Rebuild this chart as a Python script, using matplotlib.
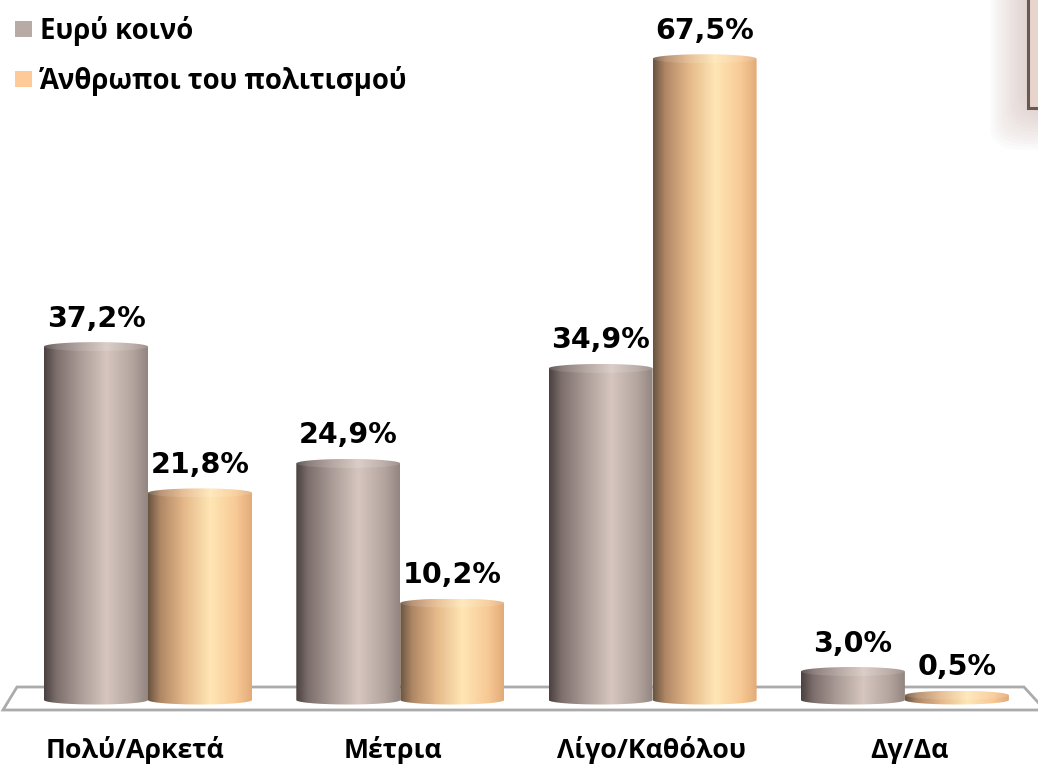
import numpy as np
import matplotlib
matplotlib.use("Agg")
import matplotlib.pyplot as plt
from matplotlib.path import Path
from matplotlib.patches import PathPatch, Polygon, Rectangle, FancyBboxPatch
from matplotlib.colors import LinearSegmentedColormap, to_rgb

# ---------------- data ----------------
categories = ["Πολύ/Αρκετά", "Μέτρια", "Λίγο/Καθόλου", "Δγ/Δα"]
series_names = ["Ευρύ κοινό", "Άνθρωποι του πολιτισμού"]
general_public = [37.2, 24.9, 34.9, 3.0]
culture_people = [21.8, 10.2, 67.5, 0.5]
series_values = [general_public, culture_people]

# ---------------- style ----------------
W, H, DPI = 1038, 764, 100
fig = plt.figure(figsize=(W / DPI, H / DPI), dpi=DPI)
fig.patch.set_facecolor("white")

LABEL_FONT = ["Open Sans", "Noto Sans", "DejaVu Sans"]
VALUE_FONT = ["DejaVu Sans"]

grey_stops = [(0.0, "#4b4140"), (0.12, "#7d6f6c"), (0.35, "#ab9c97"),
              (0.6, "#d6c6bf"), (0.85, "#b4a59f"), (1.0, "#938580")]
orange_stops = [(0.0, "#6a5440"), (0.12, "#b08866"), (0.35, "#e6b98a"),
                (0.6, "#ffe6b4"), (0.85, "#f7c995"), (1.0, "#e2ab78")]
legend_colors = ["#b8aaa4", "#fdca98"]
stops = [grey_stops, orange_stops]

# pixel-based layout -> data coordinates
zero_px = 700.0          # pixel row of value 0 (from top)
px_per_unit = 9.5        # pixels per percent
group0_px = 148.0        # centre of first group
group_step_px = 252.3
label0_px = 135.0        # category labels sit on the projected floor front
label_step_px = 258.3
bar_w = 104.0 / group_step_px
ry = 4.5 / px_per_unit   # semi-height of cylinder ellipses

ax = fig.add_axes([0, 0, 1, 1])
ax.set_xlim(-group0_px / group_step_px, (W - group0_px) / group_step_px)
ax.set_ylim(-(H - zero_px) / px_per_unit, zero_px / px_per_unit)
ax.axis("off")


def px2data(px, py):
    return ((px - group0_px) / group_step_px, (zero_px - py) / px_per_unit)


# floor (3D base plane)
floor_px = [(17, 687), (1024, 687), (1045, 710), (3, 710)]
floor = Polygon([px2data(*p) for p in floor_px], closed=True,
                facecolor="white", edgecolor="#ababab", lw=2.0, zorder=1)
ax.add_patch(floor)


def make_cmap(st, lighten=0.0):
    cols = []
    for pos, c in st:
        rgb = np.array(to_rgb(c))
        rgb = rgb + (1 - rgb) * lighten
        cols.append((pos, tuple(rgb)))
    return LinearSegmentedColormap.from_list("g", cols)


grad = np.linspace(0, 1, 256).reshape(1, -1)


def cylinder(xc, v, st, z):
    x0, x1 = xc - bar_w / 2, xc + bar_w / 2
    t = np.linspace(np.pi, 2 * np.pi, 60)
    bx = xc + (bar_w / 2) * np.cos(t)
    by = 0 + ry * np.sin(t)
    verts = [(x0, v)] + list(zip(bx, by)) + [(x1, v), (x0, v)]
    codes = [Path.MOVETO] + [Path.LINETO] * (len(verts) - 2) + [Path.CLOSEPOLY]
    body = PathPatch(Path(verts, codes), facecolor="none", edgecolor="none")
    ax.add_patch(body)
    im = ax.imshow(grad, cmap=make_cmap(st), aspect="auto",
                   extent=[x0, x1, -ry * 1.2, v], zorder=z, interpolation="bilinear")
    im.set_clip_path(body)
    tt = np.linspace(0, 2 * np.pi, 120)
    ex = xc + (bar_w / 2) * np.cos(tt)
    ey = v + ry * np.sin(tt)
    top = Polygon(np.column_stack([ex, ey]), closed=True, facecolor="none",
                  edgecolor="none")
    ax.add_patch(top)
    im2 = ax.imshow(grad, cmap=make_cmap(st, 0.12), aspect="auto",
                    extent=[x0, x1, v - ry, v + ry], zorder=z + 0.1,
                    interpolation="bilinear")
    im2.set_clip_path(top)


for si, vals in enumerate(series_values):
    for ci, v in enumerate(vals):
        xc = ci + (si - 0.5) * bar_w
        cylinder(xc, v, stops[si], 3 + si * 0.01 + ci * 0.001)
        ax.text(xc, v + 20 / px_per_unit, f"{v:.1f}".replace(".", ",") + "%",
                ha="center", va="baseline", fontsize=20.5, fontweight="bold",
                family=VALUE_FONT, color="black", zorder=10)

# category labels
for ci, cat in enumerate(categories):
    lx = (label0_px + label_step_px * ci) / W
    fig.text(lx, 1 - 758 / H, cat, ha="center", va="baseline",
             fontsize=19.2, fontweight="bold", family=LABEL_FONT, color="black")

# legend
for si, name in enumerate(series_names):
    base = 39 + si * 50
    fig.patches.append(Rectangle((15 / W, 1 - (base - 2) / H), 17 / W, 16 / H,
                                 transform=fig.transFigure,
                                 facecolor=legend_colors[si], edgecolor="none"))
    fig.text(40 / W, 1 - base / H, name, ha="left", va="baseline",
             fontsize=19.8, fontweight="bold", family=LABEL_FONT, color="black")

# partially visible framed box in the top-right corner (with soft shadow)
for k in range(14):
    pad = 3 * (14 - k)
    fig.patches.append(FancyBboxPatch(
        ((1028 - pad * 0.9) / W, 1 - (108 + pad) / H), (60 + pad) / W, (140 + pad) / H,
        boxstyle="round,pad=0,rounding_size=0.03", transform=fig.transFigure,
        facecolor="#c9aea6", edgecolor="none", alpha=0.045, zorder=0))
fig.patches.append(Rectangle((1028 / W, 1 - 108 / H), 20 / W, 120 / H,
                             transform=fig.transFigure, facecolor="#e6d4cd",
                             edgecolor="#6b5853", lw=2.2, zorder=1))

fig.savefig("out.png", dpi=DPI)
